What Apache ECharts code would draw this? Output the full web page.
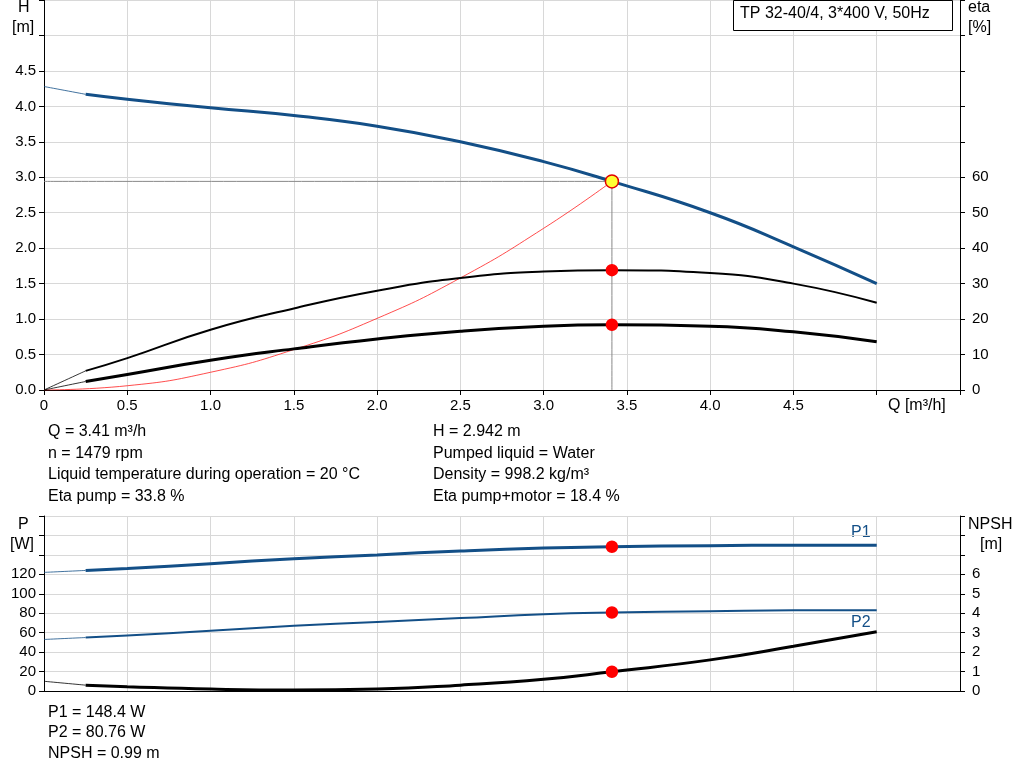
<!DOCTYPE html>
<html>
<head>
<meta charset="utf-8" />
<script src="https://cdn.jsdelivr.net/npm/echarts@6/dist/echarts.min.js"></script>
<style>body{margin:0;background:#fff}#main{width:1024px;height:781px}</style>
</head>
<body>
<div id="main"></div>
<script>
// data
var qPts = [0.25, 0.5, 1.0, 1.5, 2.0, 2.5, 3.0, 3.41, 4.0, 4.5, 5.0];
var headM = [4.17, 4.10, 3.98, 3.87, 3.72, 3.50, 3.22, 2.942, 2.50, 2.02, 1.50];
var etaPump = [5.4, 9, 17, 23, 28, 31.6, 33.4, 33.8, 33, 30, 24.6];
var etaTotal = [2.4, 4.4, 8.4, 11.6, 14.4, 16.6, 18, 18.4, 18, 16.4, 13.6];
var p1W = [124, 126, 131, 136, 140, 144, 147, 148.4, 149.5, 150, 150];
var p2W = [55, 57, 62, 67, 71, 75, 79, 80.76, 82, 83, 83];
var npshM = [0.3, 0.22, 0.1, 0.05, 0.1, 0.3, 0.6, 0.99, 1.6, 2.3, 3.05];
var sysQ = [0, 0.5, 1.0, 1.5, 2.0, 2.5, 3.0, 3.41];
var sysH = [0, 0.06, 0.25, 0.57, 1.01, 1.58, 2.28, 2.942];
var ext = { head: [4.28, 4.17], etaP: [0, 5.4], etaT: [0, 2.4], p1: [122, 124], p2: [53, 55], npsh: [0.5, 0.3] };
var opQ = 3.41, opH = 2.942;

function pairs(xs, ys) { return xs.map(function (x, i) { return [x, ys[i]]; }); }
var blue = '#134f87';
var gridLine = { show: true, lineStyle: { color: '#d8d8d8' } };
var axLine = { show: true, lineStyle: { color: '#000' } };

function line(name, data, color, width, xi, yi, z) {
  return { name: name, type: 'line', smooth: 0.5, symbol: 'none', data: data, xAxisIndex: xi, yAxisIndex: yi,
    lineStyle: { color: color, width: width }, z: z || 3, animation: false };
}
function dot(val, xi, yi, fill, border, size) {
  return { type: 'scatter', data: [val], xAxisIndex: xi, yAxisIndex: yi, symbolSize: size || 11,
    itemStyle: { color: fill, borderColor: border || fill, borderWidth: 1.5, opacity: 1 }, z: 10, animation: false };
}

var chart = echarts.init(document.getElementById('main'));
var txt = function (x, y, s, extra) {
  return Object.assign({ type: 'text', left: x, top: y, style: { text: s, font: '16px Arial', fill: '#000' } }, extra || {});
};
chart.setOption({
  animation: false,
  grid: [
    { left: 44, right: 64, top: 0, height: 390 },
    { left: 44, right: 64, top: 516, height: 175 }
  ],
  xAxis: [
    { type: 'value', gridIndex: 0, min: 0, max: 5.5, interval: 0.5, axisLine: axLine, axisTick: { show: true, lineStyle: { color: '#000' } }, splitLine: gridLine,
      axisLabel: { color: '#000', fontSize: 15, fontFamily: 'Arial', formatter: function (v) { return v >= 5 ? '' : (v === 0 ? '0' : v.toFixed(1)); } } },
    { type: 'value', gridIndex: 1, min: 0, max: 5.5, interval: 0.5, axisLine: axLine, axisTick: { show: false }, splitLine: gridLine, axisLabel: { show: false } }
  ],
  yAxis: [
    { type: 'value', gridIndex: 0, min: 0, max: 5.5, interval: 0.5, axisLine: axLine, axisTick: { show: true, lineStyle: { color: '#000' } }, splitLine: gridLine,
      axisLabel: { color: '#000', fontSize: 15, fontFamily: 'Arial', formatter: function (v) { return v >= 5 ? '' : v.toFixed(1); } } },
    { type: 'value', gridIndex: 0, position: 'right', min: 0, max: 110, interval: 10, axisLine: axLine, axisTick: { show: true, lineStyle: { color: '#000' } }, splitLine: { show: false },
      axisLabel: { color: '#000', fontSize: 15, fontFamily: 'Arial', margin: 12, formatter: function (v) { return v > 60 ? '' : String(v); } } },
    { type: 'value', gridIndex: 1, min: 0, max: 180, interval: 20, axisLine: axLine, axisTick: { show: true, lineStyle: { color: '#000' } }, splitLine: gridLine,
      axisLabel: { color: '#000', fontSize: 15, fontFamily: 'Arial', formatter: function (v) { return v > 120 ? '' : String(v); } } },
    { type: 'value', gridIndex: 1, position: 'right', min: 0, max: 9, interval: 1, axisLine: axLine, axisTick: { show: true, lineStyle: { color: '#000' } }, splitLine: { show: false },
      axisLabel: { color: '#000', fontSize: 15, fontFamily: 'Arial', margin: 12, formatter: function (v) { return v > 6 ? '' : String(v); } } }
  ],
  series: [
    line('ref', [[0, opH], [opQ, opH]], '#888', 1, 0, 0, 2),
    line('refv', [[opQ, 0], [opQ, opH]], '#888', 1, 0, 0, 2),
    line('Hext', pairs([0, 0.25], ext.head), blue, 0.8, 0, 0),
    line('H', pairs(qPts, headM), blue, 3, 0, 0, 4),
    line('sys', pairs(sysQ, sysH), '#ff2020', 0.8, 0, 0),
    line('etaPext', pairs([0, 0.25], ext.etaP), '#000', 0.8, 0, 1),
    line('etaP', pairs(qPts, etaPump), '#000', 2, 0, 1),
    line('etaText', pairs([0, 0.25], ext.etaT), '#000', 0.8, 0, 1),
    line('etaT', pairs(qPts, etaTotal), '#000', 3, 0, 1),
    dot([opQ, 33.8], 0, 1, '#ff0000'),
    dot([opQ, 18.4], 0, 1, '#ff0000'),
    dot([opQ, opH], 0, 0, '#ffff33', '#e00000', 13),
    line('p1ext', pairs([0, 0.25], ext.p1), blue, 0.8, 1, 2),
    line('P1', pairs(qPts, p1W), blue, 3, 1, 2),
    line('p2ext', pairs([0, 0.25], ext.p2), blue, 0.8, 1, 2),
    line('P2', pairs(qPts, p2W), blue, 2, 1, 2),
    line('npshext', pairs([0, 0.25], ext.npsh), '#000', 0.8, 1, 3),
    line('NPSH', pairs(qPts, npshM), '#000', 3, 1, 3),
    dot([opQ, 148.4], 1, 2, '#ff0000'),
    dot([opQ, 80.76], 1, 2, '#ff0000'),
    dot([opQ, 0.99], 1, 3, '#ff0000')
  ],
  graphic: [
    { type: 'rect', left: 733, top: 0, shape: { width: 219, height: 30 }, style: { fill: '#fff', stroke: '#000', lineWidth: 1 }, z: 20 },
    txt(740, 6, 'TP 32-40/4, 3*400 V, 50Hz', { z: 21 }),
    txt(18, 0, 'H'), txt(12, 20, '[m]'),
    txt(968, 0, 'eta'), txt(968, 20, '[%]'),
    txt(888, 398, 'Q [m³/h]', { z: 21 }),
    txt(48, 424, 'Q = 3.41 m³/h'), txt(48, 446, 'n = 1479 rpm'),
    txt(48, 467, 'Liquid temperature during operation = 20 °C'), txt(48, 489, 'Eta pump = 33.8 %'),
    txt(433, 424, 'H = 2.942 m'), txt(433, 446, 'Pumped liquid = Water'),
    txt(433, 467, 'Density = 998.2 kg/m³'), txt(433, 489, 'Eta pump+motor = 18.4 %'),
    txt(18, 517, 'P'), txt(10, 537, '[W]'),
    txt(968, 517, 'NPSH'), txt(980, 537, '[m]'),
    { type: 'text', left: 851, top: 525, style: { text: 'P1', font: '16px Arial', fill: blue } },
    { type: 'text', left: 851, top: 615, style: { text: 'P2', font: '16px Arial', fill: blue } },
    txt(48, 705, 'P1 = 148.4 W'), txt(48, 725, 'P2 = 80.76 W'), txt(48, 746, 'NPSH = 0.99 m')
  ]
});
</script>
</body>
</html>
